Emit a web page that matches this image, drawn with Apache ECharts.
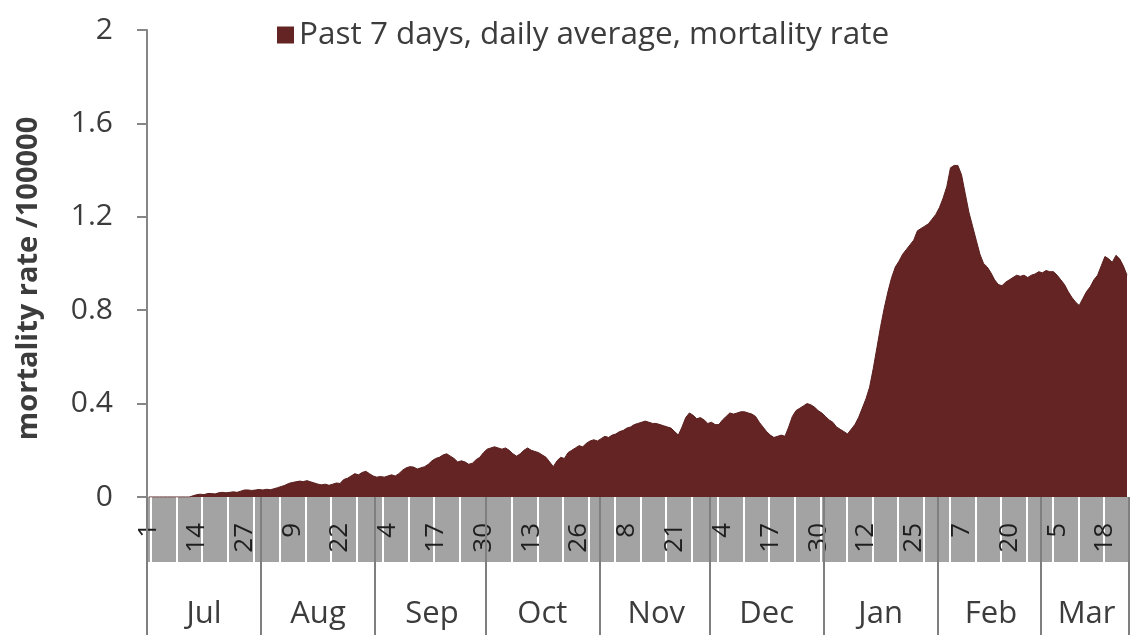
<!DOCTYPE html>
<html>
<head>
<meta charset="utf-8">
<script src="https://cdn.jsdelivr.net/npm/echarts@6/dist/echarts.min.js"></script>
<style>
html,body{margin:0;padding:0;background:#fff;}
#chart{width:1130px;height:635px;}
</style>
</head>
<body>
<div id="chart"></div>
<script>
// Months shown and number of days of each month shown (Mar is cut off at the 24th)
const monthNames = ['Jul','Aug','Sep','Oct','Nov','Dec','Jan','Feb','Mar'];
const monthDays  = [31, 31, 30, 31, 30, 31, 31, 28, 24];

// Past 7 days, daily average, mortality rate (per 100000), one value per day from Jul 1
const mortality = [
  0,0,0,0,0,0,0,0,0,0,
  0,0,0.005,0.01,0.012,0.01,0.015,0.015,0.013,0.018,
  0.02,0.018,0.02,0.022,0.02,0.025,0.03,0.03,0.028,0.03,
  0.032,0.03,0.033,0.031,0.035,0.04,0.045,0.05,0.058,0.062,
  0.065,0.068,0.066,0.07,0.065,0.06,0.055,0.052,0.055,0.05,
  0.055,0.06,0.058,0.075,0.08,0.09,0.1,0.095,0.105,0.11,
  0.1,0.09,0.085,0.088,0.085,0.09,0.095,0.09,0.1,0.115,
  0.125,0.13,0.128,0.12,0.125,0.13,0.14,0.155,0.165,0.17,
  0.18,0.185,0.175,0.165,0.15,0.155,0.15,0.14,0.145,0.16,
  0.17,0.19,0.205,0.21,0.215,0.21,0.205,0.21,0.2,0.185,
  0.175,0.185,0.2,0.21,0.2,0.195,0.19,0.18,0.17,0.15,
  0.13,0.155,0.17,0.165,0.19,0.2,0.21,0.22,0.215,0.23,
  0.24,0.245,0.24,0.25,0.26,0.255,0.265,0.27,0.28,0.285,
  0.295,0.3,0.31,0.315,0.32,0.325,0.32,0.315,0.315,0.31,
  0.305,0.3,0.295,0.28,0.265,0.3,0.34,0.36,0.35,0.335,
  0.34,0.33,0.315,0.32,0.31,0.31,0.33,0.345,0.36,0.355,
  0.36,0.365,0.365,0.36,0.355,0.345,0.32,0.3,0.28,0.265,
  0.255,0.26,0.265,0.26,0.3,0.345,0.37,0.38,0.39,0.4,
  0.395,0.385,0.37,0.36,0.345,0.33,0.32,0.3,0.29,0.28,
  0.27,0.29,0.31,0.34,0.38,0.42,0.47,0.55,0.64,0.73,
  0.81,0.88,0.94,0.985,1.01,1.04,1.06,1.08,1.1,1.14,
  1.15,1.16,1.17,1.19,1.21,1.24,1.28,1.33,1.41,1.42,
  1.42,1.38,1.3,1.22,1.16,1.1,1.04,1.0,0.985,0.96,
  0.93,0.91,0.905,0.92,0.93,0.94,0.95,0.945,0.95,0.94,
  0.95,0.955,0.965,0.96,0.97,0.965,0.965,0.95,0.93,0.91,
  0.88,0.855,0.835,0.82,0.85,0.88,0.9,0.93,0.95,0.99,
  1.03,1.02,1.005,1.035,1.02,0.99,0.95
];

// y axis ticks
const yMin = 0, yMax = 2, yStep = 0.4;
const seriesName = 'Past 7 days, daily average, mortality rate';
const yTitle = 'mortality rate /100000';

// Build day categories, month labels and month-start flags
const dayLabels = [];
const monthLabels = [];
const monthStart = [];
monthNames.forEach((m, mi) => {
  const n = monthDays[mi];
  for (let d = 1; d <= n; d++) {
    dayLabels.push(String(d));
    monthLabels.push(d - 1 === Math.floor(n / 2) ? m : '');
    monthStart.push(d === 1);
  }
});

const FONT = 'Open Sans';
const TXT = '#3c3c3c';
const AXIS = '#868686';

const chart = echarts.init(document.getElementById('chart'));
chart.setOption({
  animation: false,
  backgroundColor: '#fff',
  legend: {
    data: [seriesName],
    left: 272, top: 14,
    icon: 'rect', itemWidth: 17, itemHeight: 17, itemGap: 8,
    textStyle: { fontFamily: FONT, fontSize: 31.5, color: TXT }
  },
  grid: [
    { left: 147, right: 0, top: 30, bottom: 138, containLabel: false },
    { left: 147, right: 0, top: 497, height: 65, show: true, backgroundColor: '#a3a3a3', borderWidth: 0 }
  ],
  xAxis: [
    { // day labels
      type: 'category', gridIndex: 0, data: dayLabels, position: 'bottom', boundaryGap: true, z: 6,
      axisLine: { show: false }, axisTick: { show: false },
      axisLabel: { interval: 12, rotate: 90, margin: 26, fontFamily: FONT, fontSize: 26, color: '#1e1e1e' }
    },
    { // month labels and separators
      type: 'category', gridIndex: 0, data: monthLabels, position: 'bottom', offset: 0, boundaryGap: true, z: 7,
      axisLine: { show: false },
      axisTick: { show: true, interval: (i) => monthStart[i], length: 140, lineStyle: { color: '#7f7f7f', width: 2 } },
      axisLabel: { interval: 0, margin: 102, fontFamily: FONT, fontSize: 31, color: TXT }
    },
    { // gray band weekly lines
      type: 'category', gridIndex: 1, data: dayLabels, boundaryGap: true,
      axisLine: { show: false }, axisTick: { show: false }, axisLabel: { show: false },
      splitLine: { show: true, interval: (i) => i % 7 === 1, lineStyle: { color: '#ffffff', width: 2 } }
    }
  ],
  yAxis: [
    {
      type: 'value', gridIndex: 0, min: yMin, max: yMax, interval: yStep,
      name: yTitle, nameLocation: 'middle', nameRotate: 90, nameGap: 104,
      nameTextStyle: { fontFamily: FONT, fontSize: 29, fontWeight: 'bold', color: TXT, padding: [0, 30, 0, 0] },
      axisLine: { show: true, lineStyle: { color: AXIS, width: 2 } },
      axisTick: { show: true, length: 10, lineStyle: { color: AXIS, width: 2 } },
      axisLabel: { margin: 34, fontFamily: FONT, fontSize: 30, color: TXT },
      splitLine: { show: false }
    },
    { type: 'value', gridIndex: 1, show: false }
  ],
  series: [
    {
      name: seriesName, type: 'line', xAxisIndex: 0, yAxisIndex: 0,
      data: mortality, symbol: 'none', smooth: false,
      itemStyle: { color: '#632423' },
      lineStyle: { color: '#5a1f1e', width: 1 },
      areaStyle: { color: '#632423', opacity: 1 }
    }
  ]
});
</script>
</body>
</html>
